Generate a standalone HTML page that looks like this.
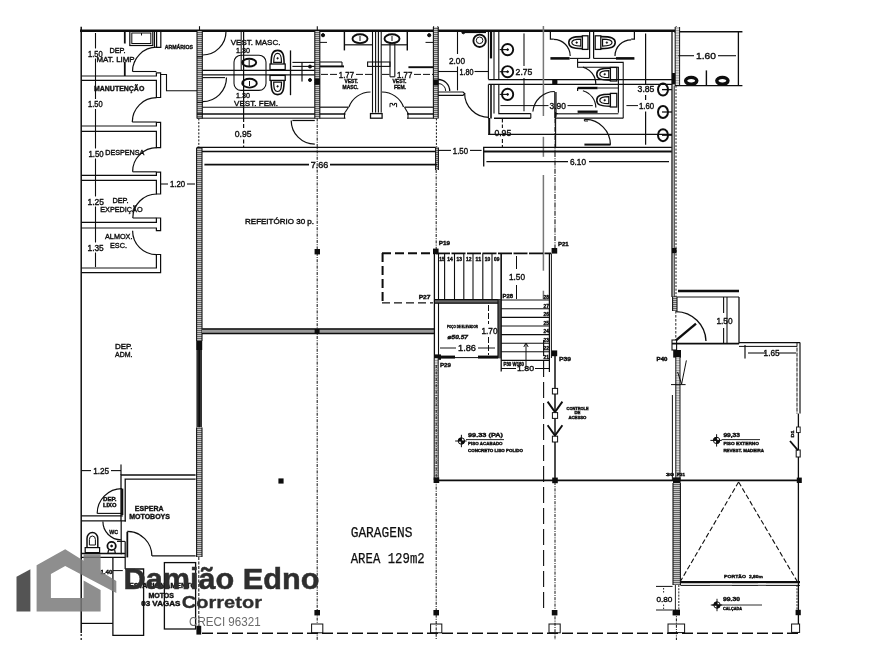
<!DOCTYPE html>
<html lang="pt-BR"><head><meta charset="utf-8"><title>Planta - Damião Edno Corretor</title>
<style>
html,body{margin:0;padding:0;background:#fff;}
body{width:881px;height:650px;overflow:hidden;position:relative;font-family:"Liberation Sans",sans-serif;}
svg{position:absolute;left:0;top:0;display:block;}
</style></head><body>
<svg width="881" height="650" viewBox="0 0 881 650">
<defs>
<pattern id="hv" width="6" height="2" patternUnits="userSpaceOnUse"><rect width="6" height="2" fill="#c8c8c8"/><rect width="6" height="1" fill="#666"/></pattern>
<pattern id="hh" width="2" height="6" patternUnits="userSpaceOnUse"><rect width="2" height="6" fill="#bdbdbd"/><rect width="1" height="6" fill="#555"/></pattern>
<pattern id="hl" width="6" height="2.5" patternUnits="userSpaceOnUse"><rect width="6" height="2.5" fill="#e4e4e4"/><rect width="6" height="1" fill="#999"/></pattern>
<filter id="soft" x="-2%" y="-2%" width="104%" height="104%"><feGaussianBlur stdDeviation="0.45"/></filter>
</defs>
<rect width="881" height="650" fill="#fff"/>
<g id="plan" filter="url(#soft)">
<line x1="80" y1="30.7" x2="675" y2="30.7" stroke="#111" stroke-width="2.4"/>
<line x1="674" y1="31.7" x2="742.4" y2="31.7" stroke="#111" stroke-width="1.5"/>
<line x1="81.2" y1="26.8" x2="81.2" y2="633" stroke="#111" stroke-width="1.5"/>
<line x1="81.2" y1="634" x2="81.2" y2="641" stroke="#111" stroke-width="1.2" stroke-dasharray="2 2"/>
<line x1="199.5" y1="26.2" x2="199.5" y2="30" stroke="#111" stroke-width="1.1"/>
<line x1="317.3" y1="26.2" x2="317.3" y2="30" stroke="#111" stroke-width="1.1"/>
<line x1="433.6" y1="26.2" x2="433.6" y2="30" stroke="#111" stroke-width="1.1"/>
<line x1="437.8" y1="26.2" x2="437.8" y2="30" stroke="#111" stroke-width="1.1"/>
<line x1="676.2" y1="26.2" x2="676.2" y2="30" stroke="#111" stroke-width="1.1"/>
<line x1="95.5" y1="33" x2="95.5" y2="48.5" stroke="#111" stroke-width="1.1"/>
<line x1="95.5" y1="58.5" x2="95.5" y2="99" stroke="#111" stroke-width="1.1"/>
<line x1="95.5" y1="109" x2="95.5" y2="148.5" stroke="#111" stroke-width="1.1"/>
<line x1="95.5" y1="158.5" x2="95.5" y2="196.5" stroke="#111" stroke-width="1.1"/>
<line x1="95.5" y1="206.5" x2="95.5" y2="242.5" stroke="#111" stroke-width="1.1"/>
<line x1="95.5" y1="252.5" x2="95.5" y2="267" stroke="#111" stroke-width="1.1"/>
<line x1="124.8" y1="31" x2="124.8" y2="43.5" stroke="#111" stroke-width="1.8"/>
<line x1="124.8" y1="62" x2="124.8" y2="76" stroke="#111" stroke-width="1.8"/>
<rect x="129.8" y="31" width="23" height="14.5" fill="none" stroke="#111" stroke-width="1.2" rx="0"/>
<rect x="131.8" y="33" width="19" height="10.5" fill="none" stroke="#111" stroke-width="1.0" rx="0"/>
<line x1="141.5" y1="33" x2="141.5" y2="35.5" stroke="#111" stroke-width="1"/>
<line x1="154.5" y1="31" x2="154.5" y2="47.3" stroke="#111" stroke-width="1.1"/>
<path d="M156.6 31 L156.6 47.3 L160.8 47.3 L160.8 31" fill="none" stroke="#111" stroke-width="1.2" stroke-linejoin="miter"/>
<path d="M156.80 47.20 A24.3 24.3 0 0 0 132.50 71.50" fill="none" stroke="#111" stroke-width="1.2"/>
<line x1="132.5" y1="71.5" x2="156.4" y2="71.5" stroke="#111" stroke-width="1.1"/>
<path d="M81.2 76 L156.4 76 L156.4 72.8 L160.6 72.8 L160.6 97.5 L156.4 97.5 L156.4 80.3 L81.2 80.3" fill="none" stroke="#111" stroke-width="1.2" stroke-linejoin="miter"/>
<path d="M81.2 126 L156.4 126 L156.4 122.3 L160.6 122.3 L160.6 147.6 L156.4 147.6 L156.4 131.3 L81.2 131.3" fill="none" stroke="#111" stroke-width="1.2" stroke-linejoin="miter"/>
<path d="M81.2 175.3 L156.4 175.3 L156.4 172.2 L160.6 172.2 L160.6 194 L156.4 194 L156.4 180.4 L81.2 180.4" fill="none" stroke="#111" stroke-width="1.2" stroke-linejoin="miter"/>
<path d="M81.2 222.3 L156.4 222.3 L156.4 218 L160.6 218 L160.6 230.7 L156.4 230.7 L156.4 228 L81.2 228" fill="none" stroke="#111" stroke-width="1.2" stroke-linejoin="miter"/>
<path d="M81.2 268 L156.4 268 L156.4 254.5 L160.6 254.5 L160.6 272.6 L81.2 272.6" fill="none" stroke="#111" stroke-width="1.2" stroke-linejoin="miter"/>
<path d="M156.60 97.70 A24.3 24.3 0 0 0 132.30 122.00" fill="none" stroke="#111" stroke-width="1.2"/>
<line x1="132.3" y1="122" x2="156.4" y2="122" stroke="#111" stroke-width="1.1"/>
<path d="M156.80 147.60 A24.2 24.2 0 0 0 132.60 171.80" fill="none" stroke="#111" stroke-width="1.2"/>
<line x1="132.6" y1="171.8" x2="156.4" y2="171.8" stroke="#111" stroke-width="1.1"/>
<path d="M156.80 194.00 A24 24 0 0 0 132.80 218.00" fill="none" stroke="#111" stroke-width="1.2"/>
<line x1="132.8" y1="218" x2="156.4" y2="218" stroke="#111" stroke-width="1.1"/>
<path d="M132.60 230.70 A24 24 0 0 0 156.60 254.70" fill="none" stroke="#111" stroke-width="1.2"/>
<path d="M160.6 74.5 L166.5 74.5 L166.5 90.7 L197 90.7" fill="none" stroke="#111" stroke-width="1.1" stroke-linejoin="miter"/>
<text x="164.8" y="49.00" font-family='"Liberation Sans", sans-serif' font-size="5.6" font-weight="bold" fill="#111" textLength="28.1" lengthAdjust="spacingAndGlyphs" stroke="#111" stroke-width="0.38">ARMÁRIOS</text>
<text x="109.4" y="52.95" font-family='"Liberation Sans", sans-serif' font-size="7.4" font-weight="normal" fill="#111" textLength="16.2" lengthAdjust="spacingAndGlyphs" stroke="#111" stroke-width="0.38">DEP.</text>
<text x="96.5" y="61.85" font-family='"Liberation Sans", sans-serif' font-size="7.4" font-weight="normal" fill="#111" textLength="39.3" lengthAdjust="spacingAndGlyphs" stroke="#111" stroke-width="0.38">MAT. LIMP.</text>
<text x="88" y="56.81" font-family='"Liberation Sans", sans-serif' font-size="8.4" font-weight="normal" fill="#111" textLength="14.6" lengthAdjust="spacingAndGlyphs" stroke="#111" stroke-width="0.38">1.50</text>
<text x="94" y="90.75" font-family='"Liberation Sans", sans-serif' font-size="7.4" font-weight="bold" fill="#111" textLength="50.3" lengthAdjust="spacingAndGlyphs" stroke="#111" stroke-width="0.38">MANUTENÇÃO</text>
<text x="88" y="107.01" font-family='"Liberation Sans", sans-serif' font-size="8.4" font-weight="normal" fill="#111" textLength="14.6" lengthAdjust="spacingAndGlyphs" stroke="#111" stroke-width="0.38">1.50</text>
<text x="88.4" y="156.51" font-family='"Liberation Sans", sans-serif' font-size="8.4" font-weight="normal" fill="#111" textLength="15.2" lengthAdjust="spacingAndGlyphs" stroke="#111" stroke-width="0.38">1.50</text>
<text x="105.2" y="154.65" font-family='"Liberation Sans", sans-serif' font-size="7.4" font-weight="normal" fill="#111" textLength="39.2" lengthAdjust="spacingAndGlyphs" stroke="#111" stroke-width="0.38">DESPENSA</text>
<text x="87.5" y="204.71" font-family='"Liberation Sans", sans-serif' font-size="8.4" font-weight="normal" fill="#111" textLength="16.5" lengthAdjust="spacingAndGlyphs" stroke="#111" stroke-width="0.38">1.25</text>
<text x="112.4" y="202.85" font-family='"Liberation Sans", sans-serif' font-size="7.4" font-weight="normal" fill="#111" textLength="16.2" lengthAdjust="spacingAndGlyphs" stroke="#111" stroke-width="0.38">DEP.</text>
<text x="100.2" y="212.35" font-family='"Liberation Sans", sans-serif' font-size="7.4" font-weight="normal" fill="#111" textLength="42.4" lengthAdjust="spacingAndGlyphs" stroke="#111" stroke-width="0.38">EXPEDIÇÃO</text>
<text x="105" y="239.15" font-family='"Liberation Sans", sans-serif' font-size="7.4" font-weight="normal" fill="#111" textLength="27.5" lengthAdjust="spacingAndGlyphs" stroke="#111" stroke-width="0.38">ALMOX.</text>
<text x="110" y="248.35" font-family='"Liberation Sans", sans-serif' font-size="7.4" font-weight="normal" fill="#111" textLength="17.0" lengthAdjust="spacingAndGlyphs" stroke="#111" stroke-width="0.38">ESC.</text>
<text x="87.5" y="250.51" font-family='"Liberation Sans", sans-serif' font-size="8.4" font-weight="normal" fill="#111" textLength="16.2" lengthAdjust="spacingAndGlyphs" stroke="#111" stroke-width="0.38">1.35</text>
<text x="115" y="349.15" font-family='"Liberation Sans", sans-serif' font-size="7.4" font-weight="normal" fill="#111" textLength="17.5" lengthAdjust="spacingAndGlyphs" stroke="#111" stroke-width="0.38">DEP.</text>
<text x="115" y="356.95" font-family='"Liberation Sans", sans-serif' font-size="7.4" font-weight="normal" fill="#111" textLength="17.5" lengthAdjust="spacingAndGlyphs" stroke="#111" stroke-width="0.38">ADM.</text>
<line x1="161" y1="184" x2="168" y2="184" stroke="#111" stroke-width="1.1"/>
<line x1="187" y1="184" x2="195" y2="184" stroke="#111" stroke-width="1.1"/>
<text x="170" y="187.01" font-family='"Liberation Sans", sans-serif' font-size="8.4" font-weight="normal" fill="#111" textLength="15.2" lengthAdjust="spacingAndGlyphs" stroke="#111" stroke-width="0.38">1.20</text>
<rect x="197" y="31" width="5.300000000000011" height="87.4" fill="url(#hv)"/>
<line x1="197" y1="31" x2="197" y2="118.4" stroke="#111" stroke-width="1.1"/>
<line x1="202.3" y1="31" x2="202.3" y2="118.4" stroke="#111" stroke-width="1.1"/>
<line x1="198.8" y1="118.4" x2="198.8" y2="147.5" stroke="#111" stroke-width="1" stroke-dasharray="2 1.5"/>
<rect x="196.6" y="147.5" width="5.400000000000006" height="193.5" fill="url(#hv)"/>
<line x1="196.6" y1="147.5" x2="196.6" y2="341" stroke="#111" stroke-width="1.1"/>
<line x1="202" y1="147.5" x2="202" y2="341" stroke="#111" stroke-width="1.1"/>
<rect x="196.2" y="341" width="6" height="9" fill="#111"/>
<rect x="196.4" y="350" width="5.6" height="77.5" fill="#333"/>
<line x1="199.2" y1="350" x2="199.2" y2="427.5" stroke="#111" stroke-width="1.6"/>
<rect x="196.6" y="427.5" width="5.400000000000006" height="129.5" fill="url(#hv)"/>
<line x1="196.6" y1="427.5" x2="196.6" y2="557" stroke="#111" stroke-width="1.1"/>
<line x1="202" y1="427.5" x2="202" y2="557" stroke="#111" stroke-width="1.1"/>
<line x1="198.8" y1="557" x2="198.8" y2="626" stroke="#111" stroke-width="1" stroke-dasharray="3 1.5"/>
<rect x="196.4" y="625.8" width="4.8" height="8.8" fill="#111"/>
<line x1="197" y1="56.8" x2="203" y2="56.8" stroke="#111" stroke-width="1.1"/>
<line x1="197" y1="102.4" x2="203" y2="102.4" stroke="#111" stroke-width="1.1"/>
<path d="M226.00 31.50 A23.5 23.5 0 0 1 202.50 55.00" fill="none" stroke="#111" stroke-width="1.2"/>
<path d="M226.50 77.60 A24 24 0 0 1 202.50 101.60" fill="none" stroke="#111" stroke-width="1.2"/>
<line x1="202.5" y1="77.6" x2="225" y2="77.6" stroke="#111" stroke-width="1.1"/>
<line x1="202.3" y1="70.4" x2="314.8" y2="70.4" stroke="#111" stroke-width="1.2"/>
<line x1="202.3" y1="74.9" x2="314.8" y2="74.9" stroke="#111" stroke-width="1.2"/>
<line x1="202.3" y1="107.2" x2="314.8" y2="107.2" stroke="#111" stroke-width="1.1"/>
<line x1="197" y1="114" x2="437.6" y2="114" stroke="#111" stroke-width="1.5"/>
<line x1="197" y1="118.2" x2="437.6" y2="118.2" stroke="#111" stroke-width="1.0"/>
<line x1="241.2" y1="31" x2="241.2" y2="70" stroke="#111" stroke-width="1.0"/>
<line x1="243.6" y1="31" x2="243.6" y2="118" stroke="#111" stroke-width="1.2"/>
<line x1="243.6" y1="118" x2="243.6" y2="128" stroke="#111" stroke-width="1.2" stroke-dasharray="4 2"/>
<line x1="243.6" y1="139.5" x2="243.6" y2="147.5" stroke="#111" stroke-width="1.2" stroke-dasharray="4 2"/>
<text x="230.8" y="44.72" font-family='"Liberation Sans", sans-serif' font-size="7.6" font-weight="normal" fill="#111" textLength="49.6" lengthAdjust="spacingAndGlyphs" stroke="#111" stroke-width="0.38">VEST. MASC.</text>
<text x="236" y="53.46" font-family='"Liberation Sans", sans-serif' font-size="8" font-weight="normal" fill="#111" textLength="14.0" lengthAdjust="spacingAndGlyphs" stroke="#111" stroke-width="0.38">1.30</text>
<text x="236" y="98.06" font-family='"Liberation Sans", sans-serif' font-size="8" font-weight="normal" fill="#111" textLength="14.0" lengthAdjust="spacingAndGlyphs" stroke="#111" stroke-width="0.38">1.30</text>
<text x="234" y="106.22" font-family='"Liberation Sans", sans-serif' font-size="7.6" font-weight="normal" fill="#111" textLength="44.0" lengthAdjust="spacingAndGlyphs" stroke="#111" stroke-width="0.38">VEST. FEM.</text>
<text x="234.8" y="137.01" font-family='"Liberation Sans", sans-serif' font-size="8.4" font-weight="normal" fill="#111" textLength="16.8" lengthAdjust="spacingAndGlyphs" stroke="#111" stroke-width="0.38">0.95</text>
<rect x="234" y="55.2" width="32" height="35.2" fill="none" stroke="#111" stroke-width="1.1" rx="7"/>
<ellipse cx="249.2" cy="62.6" rx="7" ry="3.9" fill="none" stroke="#111" stroke-width="1.9"/>
<ellipse cx="249.5" cy="83.2" rx="7.3" ry="4.4" fill="none" stroke="#111" stroke-width="1.9"/>
<line x1="249.2" y1="60" x2="249.2" y2="66" stroke="#111" stroke-width="1"/>
<line x1="249.5" y1="81" x2="249.5" y2="86" stroke="#111" stroke-width="1"/>
<rect x="270.0" y="64" width="15.2" height="5.599999999999994" fill="none" stroke="#111" stroke-width="1.3" rx="0"/>
<path d="M271.1 64 C271.1 53.8 272.725 50.4 277.6 50.4 C282.475 50.4 284.1 53.8 284.1 64" fill="none" stroke="#111" stroke-width="1.6"/>
<path d="M273.70000000000005 62.368 C273.70000000000005 55.1872 274.87 53.391999999999996 277.6 53.391999999999996 C280.33000000000004 53.391999999999996 281.5 55.1872 281.5 62.368 Z" fill="none" stroke="#111" stroke-width="1.2"/>
<circle cx="277.6" cy="58.288" r="0.8" fill="#111" stroke="#111" stroke-width="0.6"/>
<rect x="270.0" y="75.4" width="15.2" height="5.0" fill="none" stroke="#111" stroke-width="1.3" rx="0"/>
<path d="M271.1 80.4 C271.1 91.05 272.725 94.6 277.6 94.6 C282.475 94.6 284.1 91.05 284.1 80.4" fill="none" stroke="#111" stroke-width="1.6"/>
<path d="M273.70000000000005 82.104 C273.70000000000005 89.6016 274.87 91.476 277.6 91.476 C280.33000000000004 91.476 281.5 89.6016 281.5 82.104 Z" fill="none" stroke="#111" stroke-width="1.2"/>
<circle cx="277.6" cy="86.364" r="0.8" fill="#111" stroke="#111" stroke-width="0.6"/>
<line x1="290.5" y1="50.4" x2="290.5" y2="95.2" stroke="#111" stroke-width="1.3"/>
<line x1="292.4" y1="62.4" x2="314.8" y2="62.4" stroke="#111" stroke-width="1.1"/>
<line x1="292.4" y1="66.4" x2="314.8" y2="66.4" stroke="#111" stroke-width="1.1"/>
<line x1="302" y1="62" x2="302" y2="81.6" stroke="#111" stroke-width="1.2"/>
<circle cx="310" cy="66.6" r="1.5" fill="#111" stroke="#111" stroke-width="1"/>
<circle cx="310" cy="80" r="1.5" fill="#111" stroke="#111" stroke-width="1"/>
<rect x="314.8" y="31" width="5.0" height="87.4" fill="url(#hv)"/>
<line x1="314.8" y1="31" x2="314.8" y2="118.4" stroke="#111" stroke-width="1.1"/>
<line x1="319.8" y1="31" x2="319.8" y2="118.4" stroke="#111" stroke-width="1.1"/>
<rect x="314.6" y="78.6" width="5.4" height="6.2" fill="#111"/>
<circle cx="323" cy="35.2" r="1.6" fill="#111" stroke="#111" stroke-width="1"/>
<line x1="320" y1="42.4" x2="327" y2="42.4" stroke="#111" stroke-width="1"/>
<circle cx="429.2" cy="35.2" r="1.6" fill="#111" stroke="#111" stroke-width="1"/>
<line x1="425.5" y1="42.4" x2="433" y2="42.4" stroke="#111" stroke-width="1"/>
<line x1="344.4" y1="31" x2="344.4" y2="50.4" stroke="#111" stroke-width="1.4"/>
<line x1="344.4" y1="44.8" x2="372.4" y2="44.8" stroke="#111" stroke-width="1.2"/>
<ellipse cx="360" cy="38.7" rx="7.5" ry="4.4" fill="none" stroke="#111" stroke-width="1.9"/>
<line x1="360" y1="36" x2="360" y2="41" stroke="#111" stroke-width="1"/>
<line x1="407.3" y1="31" x2="407.3" y2="50.4" stroke="#111" stroke-width="1.4"/>
<line x1="381" y1="44.8" x2="407.3" y2="44.8" stroke="#111" stroke-width="1.2"/>
<ellipse cx="392" cy="38.7" rx="7.5" ry="4.4" fill="none" stroke="#111" stroke-width="1.9"/>
<line x1="392" y1="36" x2="392" y2="41" stroke="#111" stroke-width="1"/>
<line x1="372.5" y1="31" x2="372.5" y2="113.6" stroke="#111" stroke-width="1.1"/>
<line x1="375.6" y1="31" x2="375.6" y2="113.6" stroke="#111" stroke-width="1.1"/>
<line x1="378.4" y1="31" x2="378.4" y2="113.6" stroke="#111" stroke-width="1.1"/>
<line x1="381.2" y1="31" x2="381.2" y2="113.6" stroke="#111" stroke-width="1.1"/>
<rect x="370.5" y="113.6" width="11.6" height="4.6" fill="none" stroke="#111" stroke-width="1.3" rx="0"/>
<line x1="320" y1="62" x2="342" y2="62" stroke="#111" stroke-width="1.1"/>
<line x1="320" y1="66.4" x2="344" y2="66.4" stroke="#111" stroke-width="1.9"/>
<line x1="342" y1="62" x2="342" y2="66.4" stroke="#111" stroke-width="1.1"/>
<rect x="367.6" y="62" width="22.4" height="4.4" fill="none" stroke="#111" stroke-width="1.1" rx="0"/>
<line x1="390" y1="43" x2="390" y2="76.8" stroke="#111" stroke-width="1.1"/>
<line x1="394.8" y1="43" x2="394.8" y2="76.8" stroke="#111" stroke-width="1.1"/>
<line x1="390" y1="76.8" x2="394.8" y2="76.8" stroke="#111" stroke-width="1.1"/>
<line x1="408.4" y1="67.2" x2="433.2" y2="67.2" stroke="#111" stroke-width="1.9"/>
<line x1="321" y1="74.4" x2="337" y2="74.4" stroke="#111" stroke-width="1" stroke-dasharray="7 2"/>
<line x1="356" y1="74.4" x2="372" y2="74.4" stroke="#111" stroke-width="1" stroke-dasharray="7 2"/>
<line x1="382" y1="74.4" x2="389.5" y2="74.4" stroke="#111" stroke-width="1"/>
<line x1="414" y1="74.4" x2="433" y2="74.4" stroke="#111" stroke-width="1" stroke-dasharray="7 2"/>
<text x="338.8" y="77.75" font-family='"Liberation Sans", sans-serif' font-size="8.8" font-weight="normal" fill="#111" textLength="15.2" lengthAdjust="spacingAndGlyphs" stroke="#111" stroke-width="0.38">1.77</text>
<text x="397" y="77.75" font-family='"Liberation Sans", sans-serif' font-size="8.8" font-weight="normal" fill="#111" textLength="15.4" lengthAdjust="spacingAndGlyphs" stroke="#111" stroke-width="0.38">1.77</text>
<text x="344.4" y="82.66" font-family='"Liberation Sans", sans-serif' font-size="5.2" font-weight="bold" fill="#111" textLength="13.6" lengthAdjust="spacingAndGlyphs" stroke="#111" stroke-width="0.38">VEST.</text>
<text x="342.5" y="89.06" font-family='"Liberation Sans", sans-serif' font-size="5.2" font-weight="bold" fill="#111" textLength="16.0" lengthAdjust="spacingAndGlyphs" stroke="#111" stroke-width="0.38">MASC.</text>
<text x="392.5" y="82.66" font-family='"Liberation Sans", sans-serif' font-size="5.2" font-weight="bold" fill="#111" textLength="14.0" lengthAdjust="spacingAndGlyphs" stroke="#111" stroke-width="0.38">VEST.</text>
<text x="394" y="89.06" font-family='"Liberation Sans", sans-serif' font-size="5.2" font-weight="bold" fill="#111" textLength="12.0" lengthAdjust="spacingAndGlyphs" stroke="#111" stroke-width="0.38">FEM.</text>
<path d="M348.94 107.00 A23 23 0 0 1 370.50 92.00" fill="none" stroke="#111" stroke-width="1.2"/>
<path d="M382.00 92.00 A23 23 0 0 1 403.56 107.00" fill="none" stroke="#111" stroke-width="1.2"/>
<path d="M390 107.2 L390 103.4 L392.5 103.4 L392.5 105 L394.5 105 L394.5 103.4 L396.6 103.4 L396.6 107.2" fill="none" stroke="#111" stroke-width="1" stroke-linejoin="miter"/>
<line x1="319.8" y1="107.2" x2="348.5" y2="107.2" stroke="#111" stroke-width="1.2"/>
<line x1="348.5" y1="107.2" x2="344" y2="114" stroke="#111" stroke-width="1.1"/>
<line x1="404.5" y1="107.2" x2="433.2" y2="107.2" stroke="#111" stroke-width="1.2"/>
<line x1="404.5" y1="107.2" x2="408.5" y2="114" stroke="#111" stroke-width="1.1"/>
<rect x="345.5" y="112.6" width="61.5" height="6.5" fill="#fff"/>
<rect x="370.5" y="113.6" width="11.6" height="4.6" fill="none" stroke="#111" stroke-width="1.3" rx="0"/>
<line x1="344.5" y1="113" x2="344.5" y2="118.4" stroke="#111" stroke-width="1.1"/>
<line x1="408" y1="113" x2="408" y2="118.4" stroke="#111" stroke-width="1.1"/>
<rect x="433.4" y="27" width="4.800000000000011" height="91.4" fill="url(#hv)"/>
<line x1="433.4" y1="27" x2="433.4" y2="118.4" stroke="#111" stroke-width="1.1"/>
<line x1="438.2" y1="27" x2="438.2" y2="118.4" stroke="#111" stroke-width="1.1"/>
<rect x="433.2" y="79.5" width="5.2" height="6" fill="#111"/>
<line x1="436.4" y1="118.4" x2="436.4" y2="147" stroke="#111" stroke-width="1" stroke-dasharray="2 1.5"/>
<line x1="457.5" y1="31" x2="457.5" y2="54" stroke="#111" stroke-width="1.1"/>
<line x1="457.5" y1="66.5" x2="457.5" y2="90.4" stroke="#111" stroke-width="1.1"/>
<text x="449" y="63.58" font-family='"Liberation Sans", sans-serif' font-size="8.6" font-weight="normal" fill="#111" textLength="16.0" lengthAdjust="spacingAndGlyphs" stroke="#111" stroke-width="0.38">2.00</text>
<line x1="438.2" y1="71.5" x2="458" y2="71.5" stroke="#111" stroke-width="1.1"/>
<line x1="474.5" y1="71.5" x2="488.4" y2="71.5" stroke="#111" stroke-width="1.1"/>
<text x="459.5" y="74.78" font-family='"Liberation Sans", sans-serif' font-size="8.6" font-weight="normal" fill="#111" textLength="14.0" lengthAdjust="spacingAndGlyphs" stroke="#111" stroke-width="0.38">1.80</text>
<circle cx="479.6" cy="40.8" r="6.2" fill="none" stroke="#111" stroke-width="1.9"/>
<circle cx="479.6" cy="40.3" r="3.3" fill="none" stroke="#111" stroke-width="1.0"/>
<line x1="463" y1="32.3" x2="486" y2="32.3" stroke="#111" stroke-width="1.6"/>
<circle cx="463.3" cy="32.4" r="1.4" fill="#111" stroke="#111" stroke-width="1"/>
<path d="M438.20 79.50 A11.5 11.5 0 0 1 449.70 91.00" fill="none" stroke="#111" stroke-width="1.3"/>
<path d="M438.20 83.50 A7.5 7.5 0 0 1 445.70 91.00" fill="none" stroke="#111" stroke-width="1.0"/>
<path d="M438.2 92 L463 92 L464.6 93.6 L463 95.4 L438.2 95.4" fill="none" stroke="#111" stroke-width="1.2" stroke-linejoin="miter"/>
<path d="M464.60 93.00 A24.4 24.4 0 0 0 489.00 117.40" fill="none" stroke="#111" stroke-width="1.2"/>
<line x1="488.4" y1="31" x2="488.4" y2="79.2" stroke="#111" stroke-width="1.1"/>
<line x1="494" y1="31" x2="494" y2="79.2" stroke="#111" stroke-width="1.1"/>
<line x1="491" y1="31" x2="491" y2="58.4" stroke="#111" stroke-width="2.2"/>
<line x1="488.4" y1="84.6" x2="488.4" y2="118.4" stroke="#111" stroke-width="1.1"/>
<line x1="491" y1="84.6" x2="491" y2="118.4" stroke="#111" stroke-width="1.6"/>
<line x1="494" y1="84.6" x2="494" y2="113.6" stroke="#111" stroke-width="1.1"/>
<line x1="489.2" y1="118" x2="489.2" y2="135" stroke="#111" stroke-width="2.0"/>
<line x1="488.4" y1="134.4" x2="672" y2="134.4" stroke="#111" stroke-width="1.4"/>
<line x1="488.4" y1="79.6" x2="672" y2="79.6" stroke="#111" stroke-width="1.2"/>
<line x1="488.4" y1="84.3" x2="672" y2="84.3" stroke="#111" stroke-width="1.2"/>
<rect x="552.2" y="79.4" width="5.2" height="5.4" fill="#111"/>
<line x1="498.8" y1="31" x2="498.8" y2="79.2" stroke="#111" stroke-width="1.1"/>
<path d="M498.8 84.3 L498.8 113.6 L530.8 113.6" fill="none" stroke="#111" stroke-width="1.1" stroke-linejoin="miter"/>
<line x1="494" y1="118.2" x2="530.8" y2="118.2" stroke="#111" stroke-width="1.6"/>
<line x1="530.8" y1="113.6" x2="530.8" y2="118.2" stroke="#111" stroke-width="1.1"/>
<circle cx="507.6" cy="49.6" r="5.6" fill="none" stroke="#111" stroke-width="1.9"/>
<line x1="499.6" y1="49.6" x2="507.6" y2="49.6" stroke="#111" stroke-width="1.1"/>
<circle cx="507.6" cy="49.6" r="0.9" fill="#111" stroke="#111" stroke-width="1"/>
<circle cx="507.6" cy="71.7" r="5.6" fill="none" stroke="#111" stroke-width="1.9"/>
<line x1="499.6" y1="71.7" x2="507.6" y2="71.7" stroke="#111" stroke-width="1.1"/>
<circle cx="507.6" cy="71.7" r="0.9" fill="#111" stroke="#111" stroke-width="1"/>
<circle cx="507.6" cy="94.4" r="5.6" fill="none" stroke="#111" stroke-width="1.9"/>
<line x1="499.6" y1="94.4" x2="507.6" y2="94.4" stroke="#111" stroke-width="1.1"/>
<circle cx="507.6" cy="94.4" r="0.9" fill="#111" stroke="#111" stroke-width="1"/>
<text x="515.6" y="75.08" font-family='"Liberation Sans", sans-serif' font-size="8.6" font-weight="normal" fill="#111" textLength="16.8" lengthAdjust="spacingAndGlyphs" stroke="#111" stroke-width="0.38">2.75</text>
<line x1="524" y1="33.6" x2="524" y2="66" stroke="#111" stroke-width="1.1"/>
<line x1="524" y1="78" x2="524" y2="111.2" stroke="#111" stroke-width="1.1"/>
<line x1="543.4" y1="26" x2="543.4" y2="116" stroke="#777" stroke-width="1.5"/>
<line x1="543.4" y1="136.8" x2="543.4" y2="156.8" stroke="#777" stroke-width="1.5"/>
<line x1="543.4" y1="175" x2="543.4" y2="270.7" stroke="#777" stroke-width="1.5"/>
<line x1="543.4" y1="290.7" x2="543.4" y2="299" stroke="#777" stroke-width="1.5"/>
<path d="M550.4 31 L550.4 39.2 L553.6 39.2" fill="none" stroke="#111" stroke-width="1.2" stroke-linejoin="miter"/>
<path d="M553.60 39.40 A16.6 16.6 0 0 1 570.20 56.00" fill="none" stroke="#111" stroke-width="1.2"/>
<line x1="550.4" y1="58.4" x2="569.6" y2="58.4" stroke="#111" stroke-width="2.6"/>
<line x1="569.6" y1="58.4" x2="589.6" y2="58.4" stroke="#111" stroke-width="1.1"/>
<line x1="589.6" y1="31" x2="589.6" y2="58.4" stroke="#111" stroke-width="1.2"/>
<line x1="593.6" y1="31" x2="593.6" y2="58.4" stroke="#111" stroke-width="1.2"/>
<line x1="593.6" y1="58.4" x2="616" y2="58.4" stroke="#111" stroke-width="1.1"/>
<line x1="616" y1="58.4" x2="634.4" y2="58.4" stroke="#111" stroke-width="2.6"/>
<path d="M634.4 31 L634.4 39.2 L631.2 39.2" fill="none" stroke="#111" stroke-width="1.2" stroke-linejoin="miter"/>
<path d="M631.20 39.80 A16.2 16.2 0 0 0 615.00 56.00" fill="none" stroke="#111" stroke-width="1.2"/>
<rect x="582.4" y="35.800000000000004" width="5.600000000000023" height="13.6" fill="none" stroke="#111" stroke-width="1.3" rx="0"/>
<path d="M582.4 36.6 C572.1999999999999 36.6 568.8 38.1 568.8 42.6 C568.8 47.1 572.1999999999999 48.6 582.4 48.6" fill="none" stroke="#111" stroke-width="1.6"/>
<path d="M580.768 39.1 C573.5871999999999 39.1 571.7919999999999 40.15 571.7919999999999 42.6 C571.7919999999999 45.050000000000004 573.5871999999999 46.1 580.768 46.1 Z" fill="none" stroke="#111" stroke-width="1.2"/>
<circle cx="576.688" cy="42.6" r="0.8" fill="#111" stroke="#111" stroke-width="0.6"/>
<rect x="595.2" y="35.800000000000004" width="5.599999999999909" height="13.6" fill="none" stroke="#111" stroke-width="1.3" rx="0"/>
<path d="M600.8 36.6 C611.6 36.6 615.2 38.1 615.2 42.6 C615.2 47.1 611.6 48.6 600.8 48.6" fill="none" stroke="#111" stroke-width="1.6"/>
<path d="M602.528 39.1 C610.1312 39.1 612.032 40.15 612.032 42.6 C612.032 45.050000000000004 610.1312 46.1 602.528 46.1 Z" fill="none" stroke="#111" stroke-width="1.2"/>
<circle cx="606.848" cy="42.6" r="0.8" fill="#111" stroke="#111" stroke-width="0.6"/>
<path d="M577.6 58.4 L577.6 67.2 L618.4 67.2 L618.4 112.8" fill="none" stroke="#111" stroke-width="1.1" stroke-linejoin="miter"/>
<path d="M577.6 62.4 L623.2 62.4 L623.2 118.2" fill="none" stroke="#111" stroke-width="1.1" stroke-linejoin="miter"/>
<path d="M582.90 67.19 A17.4 17.4 0 0 1 595.80 84.00" fill="none" stroke="#111" stroke-width="1.2"/>
<rect x="610.4" y="67.4" width="6.399999999999977" height="13.6" fill="none" stroke="#111" stroke-width="1.3" rx="0"/>
<path d="M610.4 68.2 C600.1999999999999 68.2 596.8 69.7 596.8 74.2 C596.8 78.7 600.1999999999999 80.2 610.4 80.2" fill="none" stroke="#111" stroke-width="1.6"/>
<path d="M608.768 70.7 C601.5871999999999 70.7 599.7919999999999 71.75 599.7919999999999 74.2 C599.7919999999999 76.65 601.5871999999999 77.7 608.768 77.7 Z" fill="none" stroke="#111" stroke-width="1.2"/>
<circle cx="604.688" cy="74.2" r="0.8" fill="#111" stroke="#111" stroke-width="0.6"/>
<line x1="577.6" y1="88" x2="597.6" y2="88" stroke="#111" stroke-width="2.4"/>
<line x1="597.6" y1="88" x2="618.4" y2="88" stroke="#111" stroke-width="1.0"/>
<path d="M582.90 90.79 A17.4 17.4 0 0 1 595.80 107.60" fill="none" stroke="#111" stroke-width="1.2"/>
<path d="M577.6 88 L577.6 91" fill="none" stroke="#111" stroke-width="1.2" stroke-linejoin="miter"/>
<rect x="610.4" y="93.4" width="6.399999999999977" height="13.6" fill="none" stroke="#111" stroke-width="1.3" rx="0"/>
<path d="M610.4 94.2 C600.1999999999999 94.2 596.8 95.7 596.8 100.2 C596.8 104.7 600.1999999999999 106.2 610.4 106.2" fill="none" stroke="#111" stroke-width="1.6"/>
<path d="M608.768 96.7 C601.5871999999999 96.7 599.7919999999999 97.75 599.7919999999999 100.2 C599.7919999999999 102.65 601.5871999999999 103.7 608.768 103.7 Z" fill="none" stroke="#111" stroke-width="1.2"/>
<circle cx="604.688" cy="100.2" r="0.8" fill="#111" stroke="#111" stroke-width="0.6"/>
<line x1="577.6" y1="111.7" x2="597.6" y2="111.7" stroke="#111" stroke-width="2.4"/>
<line x1="579" y1="113.8" x2="618.4" y2="113.8" stroke="#111" stroke-width="1.1"/>
<path d="M556 92 L556 116.8" fill="none" stroke="#111" stroke-width="1.2" stroke-linejoin="miter"/>
<line x1="556" y1="113.8" x2="579" y2="113.8" stroke="#111" stroke-width="1.1"/>
<line x1="556" y1="118.2" x2="623.2" y2="118.2" stroke="#111" stroke-width="1.2"/>
<path d="M532.89 111.50 A22 22 0 0 1 554.80 91.50" fill="none" stroke="#111" stroke-width="1.2"/>
<line x1="554.8" y1="92" x2="554.8" y2="118" stroke="#111" stroke-width="1.2"/>
<line x1="558" y1="113.6" x2="556" y2="113.6" stroke="#111" stroke-width="1"/>
<line x1="500.4" y1="105.6" x2="548.5" y2="105.6" stroke="#111" stroke-width="1.0"/>
<line x1="567.5" y1="105.6" x2="592.8" y2="105.6" stroke="#111" stroke-width="1.0"/>
<text x="549.6" y="108.88" font-family='"Liberation Sans", sans-serif' font-size="8.6" font-weight="normal" fill="#111" textLength="16.4" lengthAdjust="spacingAndGlyphs" stroke="#111" stroke-width="0.38">3.90</text>
<text x="637.6" y="92.48" font-family='"Liberation Sans", sans-serif' font-size="8.6" font-weight="normal" fill="#111" textLength="16.8" lengthAdjust="spacingAndGlyphs" stroke="#111" stroke-width="0.38">3.85</text>
<text x="639" y="108.88" font-family='"Liberation Sans", sans-serif' font-size="8.6" font-weight="normal" fill="#111" textLength="15.2" lengthAdjust="spacingAndGlyphs" stroke="#111" stroke-width="0.38">1.60</text>
<line x1="626.4" y1="105.6" x2="638" y2="105.6" stroke="#111" stroke-width="1.0"/>
<line x1="645.6" y1="33.6" x2="645.6" y2="84" stroke="#111" stroke-width="1.2"/>
<line x1="645.6" y1="95" x2="645.6" y2="100" stroke="#111" stroke-width="1.2"/>
<line x1="645.6" y1="111.5" x2="645.6" y2="144.8" stroke="#111" stroke-width="1.2"/>
<ellipse cx="663" cy="89.6" rx="5.0" ry="6.0" fill="none" stroke="#111" stroke-width="2.0"/>
<line x1="662" y1="89.6" x2="672" y2="89.6" stroke="#111" stroke-width="1.3"/>
<ellipse cx="663" cy="112" rx="5.0" ry="6.0" fill="none" stroke="#111" stroke-width="2.0"/>
<line x1="662" y1="112" x2="672" y2="112" stroke="#111" stroke-width="1.3"/>
<ellipse cx="663" cy="135.2" rx="5.0" ry="6.0" fill="none" stroke="#111" stroke-width="2.0"/>
<line x1="662" y1="135.2" x2="672" y2="135.2" stroke="#111" stroke-width="1.3"/>
<line x1="672" y1="31" x2="672" y2="297" stroke="#111" stroke-width="1.3"/>
<line x1="674.2" y1="85.6" x2="674.2" y2="297" stroke="#111" stroke-width="1.0"/>
<rect x="675.2" y="27" width="4.399999999999977" height="58.599999999999994" fill="url(#hl)"/>
<line x1="675.2" y1="27" x2="675.2" y2="85.6" stroke="#111" stroke-width="1.0"/>
<line x1="679.6" y1="27" x2="679.6" y2="85.6" stroke="#111" stroke-width="1.0"/>
<line x1="676" y1="85.6" x2="676" y2="297" stroke="#111" stroke-width="1" stroke-dasharray="2 1.5"/>
<rect x="672" y="73" width="3.2" height="11.4" fill="#111"/>
<line x1="738.4" y1="31.7" x2="738.4" y2="85.6" stroke="#111" stroke-width="1.3"/>
<line x1="675" y1="85.6" x2="742.4" y2="85.6" stroke="#111" stroke-width="1.4"/>
<line x1="678.4" y1="55.7" x2="694" y2="55.7" stroke="#111" stroke-width="1.1"/>
<line x1="718" y1="55.7" x2="736" y2="55.7" stroke="#111" stroke-width="1.1"/>
<text x="696" y="59.44" font-family='"Liberation Sans", sans-serif' font-size="9.6" font-weight="normal" fill="#111" textLength="20.0" lengthAdjust="spacingAndGlyphs" stroke="#111" stroke-width="0.38">1.60</text>
<line x1="706.4" y1="70.4" x2="706.4" y2="85.6" stroke="#111" stroke-width="1.4"/>
<ellipse cx="691.2" cy="80.8" rx="5.6" ry="3.4" fill="none" stroke="#111" stroke-width="3.4"/>
<ellipse cx="722.4" cy="80.8" rx="5.6" ry="3.4" fill="none" stroke="#111" stroke-width="3.4"/>
<line x1="292.4" y1="120.5" x2="314.8" y2="120.5" stroke="#111" stroke-width="1.2"/>
<path d="M291.20 120.50 A23.6 23.6 0 0 0 314.80 144.10" fill="none" stroke="#111" stroke-width="1.2"/>
<line x1="502.4" y1="118.4" x2="502.4" y2="128" stroke="#111" stroke-width="1.1" stroke-dasharray="4 2"/>
<line x1="502.4" y1="139" x2="502.4" y2="147" stroke="#111" stroke-width="1.1" stroke-dasharray="4 2"/>
<text x="494.4" y="136.21" font-family='"Liberation Sans", sans-serif' font-size="8.4" font-weight="normal" fill="#111" textLength="16.8" lengthAdjust="spacingAndGlyphs" stroke="#111" stroke-width="0.38">0.95</text>
<path d="M585.00 119.40 A25.4 25.4 0 0 1 610.40 144.80" fill="none" stroke="#111" stroke-width="1.2"/>
<line x1="584.4" y1="144.6" x2="610.5" y2="144.6" stroke="#111" stroke-width="2.0"/>
<path d="M584.4 119 L584.4 121 L588 121" fill="none" stroke="#111" stroke-width="1.0" stroke-linejoin="miter"/>
<line x1="197" y1="147.4" x2="437.6" y2="147.4" stroke="#111" stroke-width="1.3"/>
<line x1="202" y1="151.5" x2="437.6" y2="151.5" stroke="#111" stroke-width="1.3"/>
<rect x="435.6" y="147.4" width="2.7999999999999545" height="22.599999999999994" fill="url(#hv)"/>
<line x1="435.6" y1="147.4" x2="435.6" y2="170" stroke="#111" stroke-width="1.1"/>
<line x1="438.4" y1="147.4" x2="438.4" y2="170" stroke="#111" stroke-width="1.1"/>
<line x1="204.4" y1="164.6" x2="309" y2="164.6" stroke="#111" stroke-width="1.6"/>
<line x1="330" y1="164.6" x2="437" y2="164.6" stroke="#111" stroke-width="1.6"/>
<text x="310.8" y="167.75" font-family='"Liberation Sans", sans-serif' font-size="8.8" font-weight="normal" fill="#111" textLength="17.6" lengthAdjust="spacingAndGlyphs" stroke="#111" stroke-width="0.38">7.66</text>
<line x1="438.4" y1="150.4" x2="451" y2="150.4" stroke="#111" stroke-width="1.1"/>
<line x1="470" y1="150.4" x2="481.6" y2="150.4" stroke="#111" stroke-width="1.1"/>
<text x="452.8" y="153.68" font-family='"Liberation Sans", sans-serif' font-size="8.6" font-weight="normal" fill="#111" textLength="15.2" lengthAdjust="spacingAndGlyphs" stroke="#111" stroke-width="0.38">1.50</text>
<path d="M483.7 166.4 L483.7 147.4 L671.8 147.4" fill="none" stroke="#111" stroke-width="1.3" stroke-linejoin="miter"/>
<line x1="483.7" y1="151.5" x2="671.8" y2="151.5" stroke="#111" stroke-width="1.8"/>
<line x1="486.4" y1="161.6" x2="568" y2="161.6" stroke="#111" stroke-width="1.4"/>
<line x1="589" y1="161.6" x2="669" y2="161.6" stroke="#111" stroke-width="1.4"/>
<text x="570" y="164.88" font-family='"Liberation Sans", sans-serif' font-size="8.6" font-weight="normal" fill="#111" textLength="16.0" lengthAdjust="spacingAndGlyphs" stroke="#111" stroke-width="0.38">6.10</text>
<rect x="202" y="328.4" width="232" height="5.6" fill="#999"/>
<line x1="202" y1="329" x2="434" y2="329" stroke="#111" stroke-width="1.5"/>
<line x1="202" y1="333.4" x2="434" y2="333.4" stroke="#111" stroke-width="1.5"/>
<rect x="314.6" y="329" width="5" height="5" fill="#111"/>
<text x="245" y="224.08" font-family='"Liberation Sans", sans-serif' font-size="7.2" font-weight="normal" fill="#111" textLength="69.0" lengthAdjust="spacingAndGlyphs" stroke="#111" stroke-width="0.38">REFEITÓRIO 30 p.</text>
<line x1="317.2" y1="118.4" x2="317.2" y2="640" stroke="#111" stroke-width="1" stroke-dasharray="3 1.2 1 1.2"/>
<line x1="436.2" y1="170" x2="436.2" y2="250" stroke="#111" stroke-width="1" stroke-dasharray="3 1.2 1 1.2"/>
<line x1="555" y1="118.4" x2="555" y2="250" stroke="#111" stroke-width="1.1" stroke-dasharray="5 1.2 1 1.2"/>
<line x1="555.6" y1="112" x2="555.6" y2="147" stroke="#111" stroke-width="1.1"/>
<rect x="314.6" y="249" width="5.4" height="5.4" fill="#111"/>
<rect x="278.4" y="478.4" width="5.2" height="5.2" fill="#111"/>
<line x1="382" y1="253.2" x2="435" y2="253.2" stroke="#111" stroke-width="2.0" stroke-dasharray="9 4"/>
<line x1="382.6" y1="253" x2="382.6" y2="303" stroke="#111" stroke-width="2.0" stroke-dasharray="9 4"/>
<line x1="382" y1="302.8" x2="433" y2="302.8" stroke="#111" stroke-width="1.3" stroke-dasharray="8 4"/>
<line x1="436" y1="253.4" x2="551" y2="253.4" stroke="#111" stroke-width="1.8" stroke-dasharray="14 1.5"/>
<rect x="433" y="248.6" width="5.6" height="5.6" fill="#111"/>
<rect x="551.6" y="248" width="5.6" height="5.6" fill="#111"/>
<text x="438.7" y="245.00" font-family='"Liberation Sans", sans-serif' font-size="5.6" font-weight="bold" fill="#111" textLength="11.3" lengthAdjust="spacingAndGlyphs" stroke="#111" stroke-width="0.38">P19</text>
<text x="558" y="246.00" font-family='"Liberation Sans", sans-serif' font-size="5.6" font-weight="bold" fill="#111" textLength="10.7" lengthAdjust="spacingAndGlyphs" stroke="#111" stroke-width="0.38">P21</text>
<text x="418.7" y="299.00" font-family='"Liberation Sans", sans-serif' font-size="5.6" font-weight="bold" fill="#111" textLength="11.8" lengthAdjust="spacingAndGlyphs" stroke="#111" stroke-width="0.38">P27</text>
<text x="502.5" y="298.00" font-family='"Liberation Sans", sans-serif' font-size="5.6" font-weight="bold" fill="#111" textLength="10.5" lengthAdjust="spacingAndGlyphs" stroke="#111" stroke-width="0.38">P28</text>
<text x="440" y="367.00" font-family='"Liberation Sans", sans-serif' font-size="5.6" font-weight="bold" fill="#111" textLength="11.0" lengthAdjust="spacingAndGlyphs" stroke="#111" stroke-width="0.38">P29</text>
<text x="559" y="361.00" font-family='"Liberation Sans", sans-serif' font-size="5.6" font-weight="bold" fill="#111" textLength="12.0" lengthAdjust="spacingAndGlyphs" stroke="#111" stroke-width="0.38">P39</text>
<line x1="438.5" y1="253.4" x2="438.5" y2="299.5" stroke="#111" stroke-width="1.1"/>
<line x1="444.6" y1="253.4" x2="444.6" y2="299.5" stroke="#111" stroke-width="1.1"/>
<line x1="454.5" y1="253.4" x2="454.5" y2="299.5" stroke="#111" stroke-width="1.1"/>
<line x1="463.8" y1="253.4" x2="463.8" y2="299.5" stroke="#111" stroke-width="1.1"/>
<line x1="473" y1="253.4" x2="473" y2="299.5" stroke="#111" stroke-width="1.1"/>
<line x1="482.8" y1="253.4" x2="482.8" y2="299.5" stroke="#111" stroke-width="1.1"/>
<line x1="492" y1="253.4" x2="492" y2="299.5" stroke="#111" stroke-width="1.1"/>
<line x1="501.2" y1="253.4" x2="501.2" y2="299.5" stroke="#111" stroke-width="1.1"/>
<line x1="434.4" y1="253.4" x2="434.4" y2="358" stroke="#111" stroke-width="1.3"/>
<text x="439.2" y="261.25" font-family='"Liberation Sans", sans-serif' font-size="4.6" font-weight="bold" fill="#111" textLength="5.4" lengthAdjust="spacingAndGlyphs" stroke="#111" stroke-width="0.38">15</text>
<text x="447.2" y="261.25" font-family='"Liberation Sans", sans-serif' font-size="4.6" font-weight="bold" fill="#111" textLength="5.4" lengthAdjust="spacingAndGlyphs" stroke="#111" stroke-width="0.38">14</text>
<text x="456.6" y="261.25" font-family='"Liberation Sans", sans-serif' font-size="4.6" font-weight="bold" fill="#111" textLength="5.4" lengthAdjust="spacingAndGlyphs" stroke="#111" stroke-width="0.38">13</text>
<text x="466" y="261.25" font-family='"Liberation Sans", sans-serif' font-size="4.6" font-weight="bold" fill="#111" textLength="5.4" lengthAdjust="spacingAndGlyphs" stroke="#111" stroke-width="0.38">12</text>
<text x="475.6" y="261.25" font-family='"Liberation Sans", sans-serif' font-size="4.6" font-weight="bold" fill="#111" textLength="5.4" lengthAdjust="spacingAndGlyphs" stroke="#111" stroke-width="0.38">11</text>
<text x="484.8" y="261.25" font-family='"Liberation Sans", sans-serif' font-size="4.6" font-weight="bold" fill="#111" textLength="5.4" lengthAdjust="spacingAndGlyphs" stroke="#111" stroke-width="0.38">10</text>
<text x="494" y="261.25" font-family='"Liberation Sans", sans-serif' font-size="4.6" font-weight="bold" fill="#111" textLength="5.4" lengthAdjust="spacingAndGlyphs" stroke="#111" stroke-width="0.38">09</text>
<rect x="435" y="299.4" width="66" height="4" fill="#666"/>
<line x1="435" y1="299.6" x2="501.2" y2="299.6" stroke="#111" stroke-width="1.3"/>
<line x1="435" y1="303.2" x2="501.2" y2="303.2" stroke="#111" stroke-width="1.3"/>
<line x1="438.5" y1="303" x2="438.5" y2="358" stroke="#111" stroke-width="1.1"/>
<rect x="497.8" y="299.4" width="3.6" height="59" fill="#555"/>
<line x1="498" y1="299.5" x2="498" y2="358" stroke="#111" stroke-width="1.1"/>
<line x1="501.2" y1="253.4" x2="501.2" y2="371.5" stroke="#111" stroke-width="1.3"/>
<rect x="434" y="354.4" width="7" height="5.4" fill="#111"/>
<rect x="441" y="355.6" width="14" height="3" fill="#111"/>
<rect x="478" y="355.6" width="20" height="3" fill="#111"/>
<line x1="455" y1="357.6" x2="478" y2="357.6" stroke="#111" stroke-width="1.0"/>
<text x="447" y="328.00" font-family='"Liberation Sans", sans-serif' font-size="3.9" font-weight="bold" fill="#111" textLength="31.0" lengthAdjust="spacingAndGlyphs" stroke="#111" stroke-width="0.38">POÇO DE ELEVADOR</text>
<text x="447.5" y="338.93" font-family='"Liberation Sans", sans-serif' font-size="5.4" font-weight="bold" fill="#111" textLength="20.5" lengthAdjust="spacingAndGlyphs" stroke="#111" stroke-width="0.38" font-style="italic">ø50.57</text>
<line x1="488.5" y1="305" x2="488.5" y2="324" stroke="#111" stroke-width="1.0" stroke-dasharray="6 2"/>
<line x1="488.5" y1="337" x2="488.5" y2="355" stroke="#111" stroke-width="1.0" stroke-dasharray="6 2"/>
<text x="481.5" y="334.15" font-family='"Liberation Sans", sans-serif' font-size="8.8" font-weight="normal" fill="#111" textLength="16.0" lengthAdjust="spacingAndGlyphs" stroke="#111" stroke-width="0.38">1.70</text>
<line x1="440" y1="348" x2="456" y2="348" stroke="#111" stroke-width="1.0"/>
<line x1="478" y1="348" x2="495" y2="348" stroke="#111" stroke-width="1.0"/>
<text x="458" y="351.15" font-family='"Liberation Sans", sans-serif' font-size="8.8" font-weight="normal" fill="#111" textLength="18.0" lengthAdjust="spacingAndGlyphs" stroke="#111" stroke-width="0.38">1.86</text>
<line x1="501.2" y1="300" x2="549.4" y2="300" stroke="#111" stroke-width="1.1"/>
<line x1="501.2" y1="308.8" x2="549.4" y2="308.8" stroke="#111" stroke-width="1.1"/>
<line x1="501.2" y1="317.4" x2="549.4" y2="317.4" stroke="#111" stroke-width="1.1"/>
<line x1="501.2" y1="326" x2="549.4" y2="326" stroke="#111" stroke-width="1.1"/>
<line x1="501.2" y1="334.6" x2="549.4" y2="334.6" stroke="#111" stroke-width="1.1"/>
<line x1="501.2" y1="343.2" x2="549.4" y2="343.2" stroke="#111" stroke-width="1.1"/>
<line x1="501.2" y1="351.8" x2="549.4" y2="351.8" stroke="#111" stroke-width="1.1"/>
<line x1="501.2" y1="360.4" x2="549.4" y2="360.4" stroke="#111" stroke-width="1.1"/>
<line x1="549.4" y1="253.4" x2="549.4" y2="372" stroke="#111" stroke-width="1.2"/>
<line x1="551.4" y1="253.4" x2="551.4" y2="358" stroke="#111" stroke-width="1.0"/>
<text x="543.6" y="299.05" font-family='"Liberation Sans", sans-serif' font-size="4.6" font-weight="bold" fill="#111" textLength="5.4" lengthAdjust="spacingAndGlyphs" stroke="#111" stroke-width="0.38">28</text>
<text x="543.6" y="307.60" font-family='"Liberation Sans", sans-serif' font-size="4.6" font-weight="bold" fill="#111" textLength="5.4" lengthAdjust="spacingAndGlyphs" stroke="#111" stroke-width="0.38">27</text>
<text x="543.6" y="316.15" font-family='"Liberation Sans", sans-serif' font-size="4.6" font-weight="bold" fill="#111" textLength="5.4" lengthAdjust="spacingAndGlyphs" stroke="#111" stroke-width="0.38">26</text>
<text x="543.6" y="324.70" font-family='"Liberation Sans", sans-serif' font-size="4.6" font-weight="bold" fill="#111" textLength="5.4" lengthAdjust="spacingAndGlyphs" stroke="#111" stroke-width="0.38">25</text>
<text x="543.6" y="333.25" font-family='"Liberation Sans", sans-serif' font-size="4.6" font-weight="bold" fill="#111" textLength="5.4" lengthAdjust="spacingAndGlyphs" stroke="#111" stroke-width="0.38">24</text>
<text x="543.6" y="341.80" font-family='"Liberation Sans", sans-serif' font-size="4.6" font-weight="bold" fill="#111" textLength="5.4" lengthAdjust="spacingAndGlyphs" stroke="#111" stroke-width="0.38">23</text>
<text x="543.6" y="350.35" font-family='"Liberation Sans", sans-serif' font-size="4.6" font-weight="bold" fill="#111" textLength="5.4" lengthAdjust="spacingAndGlyphs" stroke="#111" stroke-width="0.38">22</text>
<text x="543.6" y="358.90" font-family='"Liberation Sans", sans-serif' font-size="4.6" font-weight="bold" fill="#111" textLength="5.4" lengthAdjust="spacingAndGlyphs" stroke="#111" stroke-width="0.38">21</text>
<line x1="516.5" y1="256" x2="516.5" y2="269" stroke="#111" stroke-width="1.0"/>
<line x1="516.5" y1="285" x2="516.5" y2="299" stroke="#111" stroke-width="1.0"/>
<text x="509" y="280.15" font-family='"Liberation Sans", sans-serif' font-size="8.8" font-weight="normal" fill="#111" textLength="16.0" lengthAdjust="spacingAndGlyphs" stroke="#111" stroke-width="0.38">1.50</text>
<line x1="526" y1="343" x2="526" y2="368" stroke="#111" stroke-width="1.0"/>
<path d="M523.8 347 L526 343 L528.2 347" fill="none" stroke="#111" stroke-width="1.0" stroke-linejoin="miter"/>
<text x="503.5" y="365.72" font-family='"Liberation Sans", sans-serif' font-size="4.8" font-weight="bold" fill="#111" textLength="20.5" lengthAdjust="spacingAndGlyphs" stroke="#111" stroke-width="0.38">P30 W180</text>
<text x="517" y="371.32" font-family='"Liberation Sans", sans-serif' font-size="7.6" font-weight="normal" fill="#111" textLength="17.0" lengthAdjust="spacingAndGlyphs" stroke="#111" stroke-width="0.38">1.80</text>
<line x1="501.2" y1="368.5" x2="516" y2="368.5" stroke="#111" stroke-width="1.0"/>
<line x1="535" y1="368.5" x2="549.4" y2="368.5" stroke="#111" stroke-width="1.0"/>
<rect x="551.4" y="350.4" width="5.8" height="5.8" fill="#111"/>
<rect x="434.2" y="358" width="4.0" height="122" fill="url(#hl)"/>
<line x1="434.2" y1="358" x2="434.2" y2="480" stroke="#111" stroke-width="1.0"/>
<line x1="438.2" y1="358" x2="438.2" y2="480" stroke="#111" stroke-width="1.0"/>
<line x1="434" y1="480.4" x2="800" y2="480.4" stroke="#111" stroke-width="1.9"/>
<rect x="433.6" y="477.4" width="5.6" height="5.6" fill="#111"/>
<rect x="552.2" y="477.6" width="5.6" height="5.6" fill="#111"/>
<line x1="555" y1="353" x2="555" y2="480" stroke="#111" stroke-width="1.5"/>
<line x1="543.6" y1="340" x2="543.6" y2="610" stroke="#111" stroke-width="1.1" stroke-dasharray="16 5"/>
<rect x="552.4" y="388.4" width="5.2" height="5.6" fill="#fff" stroke="#111" stroke-width="1.0" rx="0"/>
<path d="M547.6 401.6 L555 412 L562.4 401.6" fill="none" stroke="#111" stroke-width="1.9" stroke-linejoin="miter"/>
<rect x="552.4" y="412.6" width="5.2" height="5.8" fill="#fff" stroke="#111" stroke-width="1.0" rx="0"/>
<path d="M547.6 425.20000000000005 L555 435.6 L562.4 425.20000000000005" fill="none" stroke="#111" stroke-width="1.9" stroke-linejoin="miter"/>
<rect x="552.4" y="436.20000000000005" width="5.2" height="5.8" fill="#fff" stroke="#111" stroke-width="1.0" rx="0"/>
<text x="566.6" y="409.56" font-family='"Liberation Sans", sans-serif' font-size="3.8" font-weight="bold" fill="#111" textLength="22.0" lengthAdjust="spacingAndGlyphs" stroke="#111" stroke-width="0.38">CONTROLE</text>
<text x="574.4" y="414.36" font-family='"Liberation Sans", sans-serif' font-size="3.8" font-weight="bold" fill="#111" textLength="6.0" lengthAdjust="spacingAndGlyphs" stroke="#111" stroke-width="0.38">DE</text>
<text x="568.4" y="419.16" font-family='"Liberation Sans", sans-serif' font-size="3.8" font-weight="bold" fill="#111" textLength="18.0" lengthAdjust="spacingAndGlyphs" stroke="#111" stroke-width="0.38">ACESSO</text>
<circle cx="461.4" cy="441" r="3.2" fill="none" stroke="#111" stroke-width="1.0"/>
<line x1="455.2" y1="441" x2="466.59999999999997" y2="441" stroke="#111" stroke-width="1.0"/>
<line x1="461.4" y1="434.8" x2="461.4" y2="447.2" stroke="#111" stroke-width="1.0"/>
<path d="M461.4 441 L461.4 437.8 A3.2 3.2 0 0 0 458.2 441 Z M461.4 441 L461.4 444.2 A3.2 3.2 0 0 0 464.59999999999997 441 Z" fill="#111" stroke="#111" stroke-width="0.4"/>
<text x="468" y="437.20" font-family='"Liberation Sans", sans-serif' font-size="5.6" font-weight="bold" fill="#111" textLength="35.0" lengthAdjust="spacingAndGlyphs" stroke="#111" stroke-width="0.38">99.33 (PA)</text>
<line x1="466" y1="439.6" x2="504" y2="439.6" stroke="#111" stroke-width="0.9"/>
<text x="468" y="445.18" font-family='"Liberation Sans", sans-serif' font-size="4.4" font-weight="bold" fill="#111" textLength="34.6" lengthAdjust="spacingAndGlyphs" stroke="#111" stroke-width="0.38">PISO ACABADO</text>
<text x="468" y="451.76" font-family='"Liberation Sans", sans-serif' font-size="3.8" font-weight="bold" fill="#111" textLength="55.0" lengthAdjust="spacingAndGlyphs" stroke="#111" stroke-width="0.38">CONCRETO LISO POLIDO</text>
<rect x="672" y="248" width="4.6" height="5.2" fill="#111"/>
<line x1="678" y1="291" x2="739" y2="291" stroke="#111" stroke-width="2.4"/>
<line x1="672" y1="297" x2="739" y2="297" stroke="#111" stroke-width="1.2"/>
<line x1="739" y1="297" x2="739" y2="343.6" stroke="#111" stroke-width="1.3"/>
<line x1="723.6" y1="297" x2="723.6" y2="313" stroke="#111" stroke-width="1.1"/>
<line x1="727" y1="297" x2="727" y2="343" stroke="#111" stroke-width="1.1"/>
<line x1="723.6" y1="328" x2="723.6" y2="343" stroke="#111" stroke-width="1.1"/>
<text x="716.4" y="323.75" font-family='"Liberation Sans", sans-serif' font-size="8.8" font-weight="normal" fill="#111" textLength="16.2" lengthAdjust="spacingAndGlyphs" stroke="#111" stroke-width="0.38">1.50</text>
<rect x="672.6" y="297" width="4.399999999999977" height="14" fill="url(#hv)"/>
<line x1="672.6" y1="297" x2="672.6" y2="311" stroke="#111" stroke-width="1.1"/>
<line x1="677" y1="297" x2="677" y2="311" stroke="#111" stroke-width="1.1"/>
<path d="M676.13 311.60 A30.4 30.4 0 0 1 705.98 340.94" fill="none" stroke="#111" stroke-width="1.4"/>
<line x1="676" y1="340.4" x2="696" y2="323.6" stroke="#111" stroke-width="2.4"/>
<line x1="675.8" y1="311" x2="675.8" y2="340" stroke="#111" stroke-width="0.9" stroke-dasharray="2.5 1.5"/>
<line x1="672" y1="343.6" x2="739" y2="343.6" stroke="#111" stroke-width="1.9"/>
<line x1="739" y1="342.6" x2="800" y2="342.6" stroke="#111" stroke-width="1.3"/>
<line x1="739" y1="346.4" x2="797" y2="346.4" stroke="#111" stroke-width="1.0"/>
<rect x="672" y="340" width="4.6" height="10" fill="none" stroke="#111" stroke-width="1.1" rx="0"/>
<rect x="673.2" y="350" width="7.8" height="7.6" fill="#111"/>
<text x="656.6" y="361.05" font-family='"Liberation Sans", sans-serif' font-size="4.6" font-weight="bold" fill="#111" textLength="10.8" lengthAdjust="spacingAndGlyphs" stroke="#111" stroke-width="0.38">P40</text>
<rect x="675.8" y="357" width="4.2000000000000455" height="123" fill="url(#hl)"/>
<line x1="675.8" y1="357" x2="675.8" y2="480" stroke="#111" stroke-width="1.0"/>
<line x1="680" y1="357" x2="680" y2="480" stroke="#111" stroke-width="1.0"/>
<line x1="672.4" y1="395" x2="672.4" y2="480" stroke="#111" stroke-width="1.0"/>
<path d="M671 384.6 L685.6 384.6" fill="none" stroke="#111" stroke-width="1.0" stroke-linejoin="miter"/>
<path d="M677.6 372 L681.6 384 L686.4 360.4" fill="none" stroke="#111" stroke-width="1.0" stroke-linejoin="miter"/>
<line x1="745" y1="345" x2="745" y2="358.6" stroke="#111" stroke-width="1.2"/>
<line x1="748" y1="353" x2="766" y2="353" stroke="#111" stroke-width="1.1"/>
<line x1="778" y1="353" x2="796" y2="353" stroke="#111" stroke-width="1.1"/>
<text x="763.6" y="356.35" font-family='"Liberation Sans", sans-serif' font-size="8.8" font-weight="normal" fill="#111" textLength="16.0" lengthAdjust="spacingAndGlyphs" stroke="#111" stroke-width="0.38">1.65</text>
<line x1="797" y1="342.6" x2="797" y2="413.6" stroke="#111" stroke-width="1.0" stroke-dasharray="4 1"/>
<line x1="800" y1="342.6" x2="800" y2="413.6" stroke="#111" stroke-width="1.2"/>
<line x1="798.4" y1="413.6" x2="798.4" y2="633" stroke="#111" stroke-width="1.3"/>
<rect x="796.6" y="427" width="3.6" height="5.6" fill="#fff" stroke="#111" stroke-width="0.9" rx="0"/>
<rect x="796.2" y="450" width="4" height="7" fill="#fff" stroke="#111" stroke-width="1.0" rx="0"/>
<line x1="790" y1="441" x2="798" y2="450.4" stroke="#111" stroke-width="1.8"/>
<text x="792" y="438.98" font-family='"Liberation Sans", sans-serif' font-size="4.4" font-weight="bold" fill="#111" textLength="7.0" lengthAdjust="spacingAndGlyphs" stroke="#111" stroke-width="0.38" transform="rotate(-90 792 437.4)">D1</text>
<rect x="796.8" y="477.6" width="5" height="5.4" fill="#111"/>
<circle cx="716.6" cy="440.4" r="3.2" fill="none" stroke="#111" stroke-width="1.0"/>
<line x1="710.4" y1="440.4" x2="721.8000000000001" y2="440.4" stroke="#111" stroke-width="1.0"/>
<line x1="716.6" y1="434.2" x2="716.6" y2="446.59999999999997" stroke="#111" stroke-width="1.0"/>
<path d="M716.6 440.4 L716.6 437.2 A3.2 3.2 0 0 0 713.4 440.4 Z M716.6 440.4 L716.6 443.59999999999997 A3.2 3.2 0 0 0 719.8000000000001 440.4 Z" fill="#111" stroke="#111" stroke-width="0.4"/>
<text x="723.4" y="436.53" font-family='"Liberation Sans", sans-serif' font-size="5.4" font-weight="bold" fill="#111" textLength="16.6" lengthAdjust="spacingAndGlyphs" stroke="#111" stroke-width="0.38">99,33</text>
<line x1="721.6" y1="439.6" x2="760" y2="439.6" stroke="#111" stroke-width="0.9"/>
<text x="723.4" y="444.50" font-family='"Liberation Sans", sans-serif' font-size="4.2" font-weight="bold" fill="#111" textLength="35.6" lengthAdjust="spacingAndGlyphs" stroke="#111" stroke-width="0.38">PISO EXTERNO</text>
<text x="723.4" y="452.10" font-family='"Liberation Sans", sans-serif' font-size="4.2" font-weight="bold" fill="#111" textLength="40.6" lengthAdjust="spacingAndGlyphs" stroke="#111" stroke-width="0.38">REVEST. MADEIRA</text>
<text x="666" y="475.50" font-family='"Liberation Sans", sans-serif' font-size="4.2" font-weight="bold" fill="#111" textLength="8.0" lengthAdjust="spacingAndGlyphs" stroke="#111" stroke-width="0.38">30</text>
<text x="677" y="475.50" font-family='"Liberation Sans", sans-serif' font-size="4.2" font-weight="bold" fill="#111" textLength="8.0" lengthAdjust="spacingAndGlyphs" stroke="#111" stroke-width="0.38">P31</text>
<rect x="673" y="477.4" width="7.6" height="6" fill="#111"/>
<rect x="673" y="483" width="7.399999999999977" height="102" fill="url(#hv)"/>
<line x1="673" y1="483" x2="673" y2="585" stroke="#111" stroke-width="1.1"/>
<line x1="680.4" y1="483" x2="680.4" y2="585" stroke="#111" stroke-width="1.1"/>
<line x1="675.4" y1="585" x2="675.4" y2="610" stroke="#111" stroke-width="0.9"/>
<line x1="678.8" y1="585" x2="678.8" y2="610" stroke="#111" stroke-width="0.9" stroke-dasharray="2 1.2"/>
<line x1="738.6" y1="482" x2="680.6" y2="581" stroke="#111" stroke-width="1.1" stroke-dasharray="5 2.4"/>
<line x1="738.6" y1="482" x2="797" y2="581" stroke="#111" stroke-width="1.1" stroke-dasharray="5 2.4"/>
<line x1="680.4" y1="582.2" x2="800" y2="582.2" stroke="#111" stroke-width="2.2"/>
<line x1="680.4" y1="585.4" x2="800" y2="585.4" stroke="#111" stroke-width="1.0"/>
<rect x="710" y="583" width="22" height="2.2" fill="#ddd"/>
<rect x="758" y="583" width="8" height="2.2" fill="#ddd"/>
<text x="724" y="577.58" font-family='"Liberation Sans", sans-serif' font-size="4.4" font-weight="bold" fill="#111" textLength="22.0" lengthAdjust="spacingAndGlyphs" stroke="#111" stroke-width="0.38">PORTÃO</text>
<text x="749" y="577.58" font-family='"Liberation Sans", sans-serif' font-size="4.4" font-weight="bold" fill="#111" textLength="14.0" lengthAdjust="spacingAndGlyphs" stroke="#111" stroke-width="0.38">2,80m</text>
<line x1="656" y1="586.4" x2="672.6" y2="586.4" stroke="#111" stroke-width="1.0"/>
<line x1="656" y1="610" x2="672.6" y2="610" stroke="#111" stroke-width="1.0"/>
<line x1="663.6" y1="588" x2="663.6" y2="593" stroke="#111" stroke-width="0.9" stroke-dasharray="1.5 1.5"/>
<line x1="663.6" y1="604.6" x2="663.6" y2="609" stroke="#111" stroke-width="0.9" stroke-dasharray="1.5 1.5"/>
<text x="656.4" y="601.79" font-family='"Liberation Sans", sans-serif' font-size="7.8" font-weight="normal" fill="#111" textLength="16.0" lengthAdjust="spacingAndGlyphs" stroke="#111" stroke-width="0.38">0.80</text>
<circle cx="717" cy="605" r="3.2" fill="none" stroke="#111" stroke-width="1.0"/>
<line x1="710.8" y1="605" x2="722.2" y2="605" stroke="#111" stroke-width="1.0"/>
<line x1="717" y1="598.8" x2="717" y2="611.2" stroke="#111" stroke-width="1.0"/>
<path d="M717 605 L717 601.8 A3.2 3.2 0 0 0 713.8 605 Z M717 605 L717 608.2 A3.2 3.2 0 0 0 720.2 605 Z" fill="#111" stroke="#111" stroke-width="0.4"/>
<text x="723" y="601.06" font-family='"Liberation Sans", sans-serif' font-size="5.2" font-weight="bold" fill="#111" textLength="17.0" lengthAdjust="spacingAndGlyphs" stroke="#111" stroke-width="0.38">99.30</text>
<line x1="712" y1="605" x2="762" y2="605" stroke="#111" stroke-width="0.9"/>
<text x="723" y="609.96" font-family='"Liberation Sans", sans-serif' font-size="3.8" font-weight="bold" fill="#111" textLength="19.0" lengthAdjust="spacingAndGlyphs" stroke="#111" stroke-width="0.38">CALÇADA</text>
<line x1="797" y1="585" x2="797" y2="612" stroke="#111" stroke-width="0.9" stroke-dasharray="2 1.2"/>
<rect x="314.4" y="610" width="5.6" height="5.4" fill="#111"/>
<rect x="311.59999999999997" y="624" width="11.2" height="8.8" fill="#fff" stroke="#111" stroke-width="1.0" rx="0"/>
<rect x="433.4" y="610" width="5.6" height="5.4" fill="#111"/>
<rect x="430.59999999999997" y="624" width="11.2" height="8.8" fill="#fff" stroke="#111" stroke-width="1.0" rx="0"/>
<rect x="551.8000000000001" y="610" width="5.6" height="5.4" fill="#111"/>
<rect x="549.0" y="624" width="11.2" height="8.8" fill="#fff" stroke="#111" stroke-width="1.0" rx="0"/>
<rect x="672.6" y="609.6" width="7.4" height="5.8" fill="#111"/>
<rect x="668" y="624" width="16.6" height="8.6" fill="#fff" stroke="#111" stroke-width="1.0" rx="0"/>
<rect x="795.6" y="609.8" width="5.2" height="5.4" fill="#111"/>
<rect x="791.6" y="624" width="8" height="8.4" fill="#fff" stroke="#111" stroke-width="1.0" rx="0"/>
<line x1="202" y1="633.2" x2="801" y2="633.2" stroke="#111" stroke-width="1.5" stroke-dasharray="11 4"/>
<line x1="436.2" y1="365" x2="436.2" y2="640" stroke="#111" stroke-width="1" stroke-dasharray="3 1.2 1 1.2"/>
<line x1="555" y1="482" x2="555" y2="640" stroke="#111" stroke-width="1" stroke-dasharray="3 1.2 1 1.2"/>
<line x1="676.4" y1="612" x2="676.4" y2="640" stroke="#111" stroke-width="1" stroke-dasharray="3 1.2 1 1.2"/>
<text x="350.7" y="537.03" font-family='"Liberation Mono", monospace' font-size="14.6" font-weight="normal" fill="#111" textLength="61.7" lengthAdjust="spacingAndGlyphs" stroke="#111" stroke-width="0.25">GARAGENS</text>
<text x="350.7" y="562.93" font-family='"Liberation Mono", monospace' font-size="14.6" font-weight="normal" fill="#111" textLength="74.0" lengthAdjust="spacingAndGlyphs" stroke="#111" stroke-width="0.25">AREA 129m2</text>
<line x1="81.2" y1="470.6" x2="91" y2="470.6" stroke="#111" stroke-width="1.1"/>
<line x1="111" y1="470.6" x2="121" y2="470.6" stroke="#111" stroke-width="1.1"/>
<line x1="121" y1="464.4" x2="121" y2="475" stroke="#111" stroke-width="1.2"/>
<text x="93.2" y="473.68" font-family='"Liberation Sans", sans-serif' font-size="8.6" font-weight="normal" fill="#111" textLength="16.0" lengthAdjust="spacingAndGlyphs" stroke="#111" stroke-width="0.38">1.25</text>
<path d="M121 521 L121 475 L195.6 475" fill="none" stroke="#111" stroke-width="1.3" stroke-linejoin="miter"/>
<path d="M125.2 521.4 L125.2 479.2 L195.6 479.2" fill="none" stroke="#111" stroke-width="1.3" stroke-linejoin="miter"/>
<line x1="122.2" y1="488.6" x2="122.2" y2="515" stroke="#111" stroke-width="2.2"/>
<path d="M122.00 488.60 A24.8 24.8 0 0 0 97.20 513.40" fill="none" stroke="#111" stroke-width="1.2"/>
<line x1="97.2" y1="513.4" x2="122" y2="513.4" stroke="#111" stroke-width="1.1"/>
<text x="103" y="501.45" font-family='"Liberation Sans", sans-serif' font-size="4.6" font-weight="bold" fill="#111" textLength="13.4" lengthAdjust="spacingAndGlyphs" stroke="#111" stroke-width="0.38">DEP.</text>
<text x="103" y="507.05" font-family='"Liberation Sans", sans-serif' font-size="4.6" font-weight="bold" fill="#111" textLength="13.4" lengthAdjust="spacingAndGlyphs" stroke="#111" stroke-width="0.38">LIXO</text>
<line x1="81.2" y1="515.8" x2="122.8" y2="515.8" stroke="#111" stroke-width="1.3"/>
<line x1="81.2" y1="520.8" x2="126" y2="520.8" stroke="#111" stroke-width="1.3"/>
<path d="M102.90 521.60 A18.3 18.3 0 0 0 121.20 539.90" fill="none" stroke="#111" stroke-width="1.2"/>
<text x="109.2" y="534.02" font-family='"Liberation Sans", sans-serif' font-size="6.2" font-weight="bold" fill="#111" textLength="8.8" lengthAdjust="spacingAndGlyphs" stroke="#111" stroke-width="0.38">WC</text>
<line x1="121.2" y1="521" x2="121.2" y2="554.2" stroke="#111" stroke-width="1.2"/>
<line x1="125.2" y1="541.4" x2="125.2" y2="569" stroke="#111" stroke-width="1.2"/>
<line x1="117" y1="541.4" x2="125.2" y2="541.4" stroke="#111" stroke-width="1.1"/>
<rect x="85.2" y="547.6" width="14.4" height="5" fill="none" stroke="#111" stroke-width="1.2" rx="0"/>
<path d="M87 547.6 L87 538.4 A5.4 5.8 0 0 1 97.8 538.4 L97.8 547.6" fill="none" stroke="#111" stroke-width="1.5"/>
<path d="M89.4 545 L89.4 539.4 A3 3.4 0 0 1 95.4 539.4 L95.4 545 Z" fill="none" stroke="#111" stroke-width="1.0"/>
<circle cx="111.6" cy="546" r="4.2" fill="none" stroke="#111" stroke-width="1.8"/>
<circle cx="111.6" cy="546" r="1" fill="#111" stroke="#111" stroke-width="0.8"/>
<path d="M108.6 550 L107.8 553.4 L115.4 553.4 L114.6 550" fill="none" stroke="#111" stroke-width="1.2" stroke-linejoin="miter"/>
<line x1="81.2" y1="553.6" x2="125.2" y2="553.6" stroke="#111" stroke-width="1.5"/>
<line x1="81.2" y1="557.4" x2="125.2" y2="557.4" stroke="#111" stroke-width="1.2"/>
<line x1="127.3" y1="531.8" x2="127.3" y2="557.4" stroke="#111" stroke-width="1.8"/>
<path d="M127.30 531.40 A24.6 24.6 0 0 1 151.90 556.00" fill="none" stroke="#111" stroke-width="1.2"/>
<line x1="152" y1="555.8" x2="195.6" y2="555.8" stroke="#111" stroke-width="1.3"/>
<text x="134.8" y="510.51" font-family='"Liberation Sans", sans-serif' font-size="7" font-weight="bold" fill="#111" textLength="28.8" lengthAdjust="spacingAndGlyphs" stroke="#111" stroke-width="0.38">ESPERA</text>
<text x="129.2" y="519.11" font-family='"Liberation Sans", sans-serif' font-size="7" font-weight="bold" fill="#111" textLength="40.8" lengthAdjust="spacingAndGlyphs" stroke="#111" stroke-width="0.38">MOTOBOYS</text>
<path d="M112.9 557.4 L112.9 635.4 L143.6 635.4 L143.6 569 L125.2 569" fill="none" stroke="#111" stroke-width="1.3" stroke-linejoin="miter"/>
<line x1="81.2" y1="623.4" x2="112.9" y2="623.4" stroke="#111" stroke-width="1.2"/>
<line x1="113" y1="570.6" x2="122.8" y2="570.6" stroke="#111" stroke-width="1.0"/>
<text x="100.4" y="574.40" font-family='"Liberation Sans", sans-serif' font-size="5.6" font-weight="bold" fill="#111" textLength="12.0" lengthAdjust="spacingAndGlyphs" stroke="#111" stroke-width="0.38">1.40</text>
<rect x="164.4" y="562.6" width="31.2" height="66.4" fill="none" stroke="#111" stroke-width="1.3" rx="0"/>
<text x="129" y="588.29" font-family='"Liberation Sans", sans-serif' font-size="6.4" font-weight="bold" fill="#111" textLength="67.0" lengthAdjust="spacingAndGlyphs" stroke="#111" stroke-width="0.38">ESTACIONAMENTO</text>
<text x="148.4" y="597.69" font-family='"Liberation Sans", sans-serif' font-size="6.4" font-weight="bold" fill="#111" textLength="25.6" lengthAdjust="spacingAndGlyphs" stroke="#111" stroke-width="0.38">MOTOS</text>
<text x="141.2" y="606.49" font-family='"Liberation Sans", sans-serif' font-size="6.4" font-weight="bold" fill="#111" textLength="39.2" lengthAdjust="spacingAndGlyphs" stroke="#111" stroke-width="0.38">03 VAGAS</text>
<g opacity="0.85">
<path d="M16.5 576.8 L30.4 569.3 L30.4 611.5 L16.5 611.5 Z" fill="#383838"/>
<path d="M36.6 611.5 L36.6 565.2 L65.2 549.3 L83.6 560.7 L83.6 554.3 L100.6 554.3 L100.6 571.2 L116.3 580.9 L116.3 593.1 L65.2 565.9 L50.9 574.1 L50.9 597.9 L83.6 597.9 L83.6 580.6 L100.6 590.1 L100.6 611.5 Z" fill="#797979"/>
</g>
<text x="123.6" y="589.18" font-family='"Liberation Sans", sans-serif' font-size="29" font-weight="bold" fill="#2e2e2e" textLength="195.8" lengthAdjust="spacingAndGlyphs" stroke="#2e2e2e" stroke-width="0.5">Damião Edno</text>
<text x="181.8" y="608.43" font-family='"Liberation Sans", sans-serif' font-size="17.4" font-weight="bold" fill="#2e2e2e" textLength="80.2" lengthAdjust="spacingAndGlyphs" stroke="#2e2e2e" stroke-width="0.3">Corretor</text>
<text x="189" y="626.45" font-family='"Liberation Sans", sans-serif' font-size="13" font-weight="normal" fill="#6a6a6a" textLength="71.6" lengthAdjust="spacingAndGlyphs">CRECI 96321</text>
</g>
</svg>
</body></html>
